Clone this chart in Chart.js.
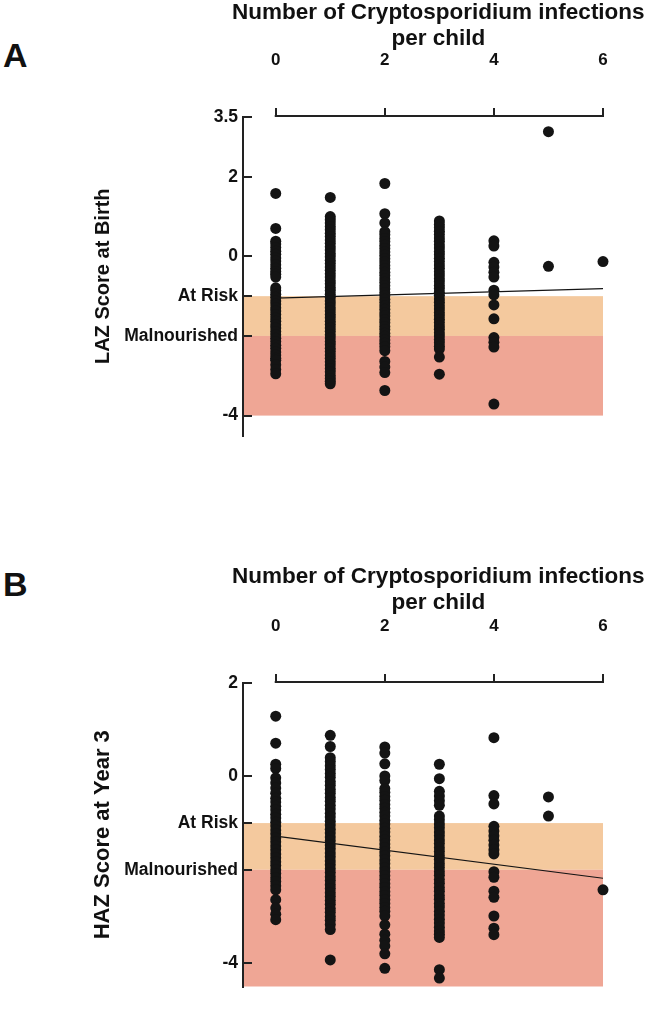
<!DOCTYPE html>
<html>
<head>
<meta charset="utf-8">
<script src="https://cdn.jsdelivr.net/npm/chart.js@4.4.1/dist/chart.umd.min.js"></script>
<style>
    html, body { margin: 0; padding: 0; background: #fff; }
    body { width: 646px; height: 1011px; position: relative; overflow: hidden; font-family: "Liberation Sans", Arial, sans-serif; }
    .panel-letter { position: absolute; left: 3px; font-weight: bold; font-size: 34px; line-height: 34px; color: #111; }
    .panel { position: absolute; left: 0; width: 646px; }
    canvas { display: block; }
</style>
</head>
<body>
<div class="panel-letter" style="top:38px">A</div>
<div class="panel-letter" style="top:567px">B</div>
<div class="panel" style="top:0"><canvas id="chart_a" width="646" height="460"></canvas></div>
<div class="panel" style="top:470px"><canvas id="chart_b" width="646" height="541"></canvas></div>
<script>
// x categories: number of Cryptosporidium infections per child
const infectionCounts = [0, 1, 2, 3, 4, 5, 6];
const xTickValues = [0, 2, 4, 6];
const xTitle = ["Number of Cryptosporidium infections", "per child"];

// Panel A - LAZ score at birth, one list per infection count
const laz0 = [1.58, 0.70, 0.38, 0.31, 0.22, 0.13, 0.05, -0.04, -0.12, -0.21, -0.30, -0.38, -0.45, -0.52,
    -0.79, -0.86, -0.95, -1.03, -1.12, -1.20, -1.29, -1.37, -1.46, -1.55, -1.63, -1.72, -1.80, -1.89,
    -1.97, -2.06, -2.14, -2.23, -2.31, -2.40, -2.48, -2.56, -2.61, -2.72, -2.84, -2.95];
const laz1 = [1.48, 1.00, 0.92, 0.84, 0.75, 0.67, 0.58, 0.50, 0.41, 0.33, 0.24, 0.16, 0.07, -0.01, -0.10,
    -0.18, -0.27, -0.35, -0.44, -0.52, -0.61, -0.69, -0.78, -0.86, -0.95, -1.03, -1.12, -1.20, -1.29,
    -1.37, -1.46, -1.54, -1.63, -1.71, -1.80, -1.88, -1.97, -2.05, -2.14, -2.22, -2.31, -2.39, -2.48,
    -2.56, -2.65, -2.73, -2.82, -2.90, -2.99, -3.07, -3.14, -3.20];
const laz2 = [1.83, 1.07, 0.84, 0.62, 0.54, 0.45, 0.37, 0.28, 0.20, 0.11, 0.03, -0.06, -0.14, -0.23, -0.31,
    -0.40, -0.48, -0.57, -0.65, -0.74, -0.82, -0.91, -0.99, -1.08, -1.16, -1.25, -1.33, -1.42, -1.50,
    -1.59, -1.67, -1.76, -1.84, -1.93, -2.01, -2.10, -2.18, -2.27, -2.37, -2.64, -2.78, -2.92, -3.37];
const laz3 = [0.89, 0.80, 0.72, 0.63, 0.55, 0.46, 0.38, 0.29, 0.21, 0.12, 0.04, -0.05, -0.13, -0.22, -0.30,
    -0.39, -0.47, -0.56, -0.64, -0.73, -0.81, -0.90, -0.98, -1.07, -1.15, -1.24, -1.32, -1.41, -1.49,
    -1.58, -1.66, -1.75, -1.83, -1.92, -2.00, -2.09, -2.17, -2.26, -2.33, -2.53, -2.96];
const laz4 = [0.39, 0.26, -0.15, -0.27, -0.40, -0.52, -0.85, -0.97, -1.22, -1.57, -2.04, -2.16, -2.28, -3.71];
const laz5 = [3.13, -0.25];
const laz6 = [-0.13];
const lazFitX = [0, 6];
const lazFitY = [-1.05, -0.81];
const lazTickValues = [3.5, 2, 0, -1, -2, -4];
const lazTickLabels = ["3.5", "2", "0", "At Risk", "Malnourished", "-4"];

// Panel B - HAZ score at year 3
const haz0 = [1.29, 0.71, 0.26, 0.17, -0.03, -0.14, -0.25, -0.36, -0.47, -0.55, -0.64, -0.72, -0.81, -0.89,
    -0.98, -1.06, -1.15, -1.23, -1.32, -1.40, -1.49, -1.57, -1.66, -1.74, -1.83, -1.91, -2.00, -2.08,
    -2.17, -2.25, -2.34, -2.43, -2.64, -2.82, -2.95, -3.07];
const haz1 = [0.88, 0.64, 0.40, 0.32, 0.23, 0.15, 0.06, -0.02, -0.11, -0.19, -0.28, -0.36, -0.45, -0.53,
    -0.62, -0.70, -0.79, -0.87, -0.96, -1.04, -1.13, -1.21, -1.30, -1.38, -1.47, -1.55, -1.64, -1.72,
    -1.81, -1.89, -1.98, -2.06, -2.15, -2.23, -2.32, -2.40, -2.49, -2.57, -2.66, -2.74, -2.83, -2.91,
    -3.00, -3.08, -3.17, -3.28, -3.93];
const haz2 = [0.63, 0.50, 0.27, 0.01, -0.09, -0.26, -0.34, -0.43, -0.51, -0.60, -0.68, -0.77, -0.85, -0.94,
    -1.02, -1.11, -1.19, -1.28, -1.36, -1.45, -1.53, -1.62, -1.70, -1.79, -1.87, -1.96, -2.04, -2.13,
    -2.21, -2.30, -2.38, -2.47, -2.55, -2.64, -2.72, -2.81, -2.89, -2.99, -3.18, -3.38, -3.51, -3.63,
    -3.80, -4.11];
const haz3 = [0.26, -0.05, -0.32, -0.42, -0.52, -0.62, -0.85, -0.93, -1.02, -1.10, -1.19, -1.27, -1.36,
    -1.44, -1.53, -1.61, -1.70, -1.78, -1.87, -1.95, -2.04, -2.12, -2.21, -2.29, -2.38, -2.46, -2.55,
    -2.63, -2.72, -2.80, -2.89, -2.97, -3.06, -3.14, -3.23, -3.31, -3.38, -3.45, -4.14, -4.32];
const haz4 = [0.83, -0.41, -0.59, -1.07, -1.17, -1.27, -1.37, -1.47, -1.57, -1.66, -2.04, -2.16, -2.46,
    -2.59, -2.99, -3.25, -3.39];
const haz5 = [-0.44, -0.85];
const haz6 = [-2.43];
const hazFitX = [0, 6];
const hazFitY = [-1.28, -2.18];
const hazTickValues = [2, 0, -1, -2, -4];
const hazTickLabels = ["2", "0", "At Risk", "Malnourished", "-4"];

// risk bands (z-score limits)
const atRiskBand = [-1, -2];
const malnourishedBandA = [-2, -4];
const malnourishedBandB = [-2, -4.5];

const FONT = "'Liberation Sans', Arial, sans-serif";
const INK = "#141414";
const AT_RISK_COLOR = "#f4c99e";
const MALNOURISHED_COLOR = "#efa695";

// bands go in before the axes so the inward tick marks stay visible;
// the top axis line only runs from 0 to 6, and the axis title is drawn
// without the scale's maxWidth so it can run wider than the plot
const panelDecor = {
    id: "panelDecor",
    beforeDraw(chart, args, opts) {
        const { ctx, chartArea, scales } = chart;
        const left = chartArea.left;
        const right = scales.x.getPixelForValue(opts.xEnd);
        ctx.save();
        opts.bands.forEach((band) => {
            const top = scales.y.getPixelForValue(band.range[0]);
            const bottom = scales.y.getPixelForValue(band.range[1]);
            ctx.fillStyle = band.color;
            ctx.fillRect(left, top, right - left, bottom - top);
        });
        ctx.restore();
    },
    afterDraw(chart, args, opts) {
        const { ctx, chartArea, scales } = chart;
        const x0 = scales.x.getPixelForValue(opts.xStart);
        const x1 = scales.x.getPixelForValue(opts.xEnd);
        const y = chartArea.top - 1;
        ctx.save();
        ctx.strokeStyle = "#222";
        ctx.lineWidth = 2;
        ctx.beginPath();
        ctx.moveTo(x0 - 1, y);
        ctx.lineTo(x1 + 1, y);
        ctx.stroke();

        ctx.fillStyle = "#111";
        ctx.font = `bold 22.5px ${FONT}`;
        ctx.textAlign = "center";
        ctx.textBaseline = "middle";
        opts.title.forEach((line, i) => {
            ctx.fillText(line, (x0 + x1) / 2 - 1, opts.titleTop + i * opts.titleLineGap);
        });
        ctx.restore();
    },
};

function buildPoints(columns) {
    const points = [];
    columns.forEach((values, i) => {
        values.forEach((v) => points.push({ x: infectionCounts[i], y: v }));
    });
    return points;
}

function buildFit(xs, ys) {
    return xs.map((x, i) => ({ x: x, y: ys[i] }));
}

function makePanel(canvasId, cfg) {
    const ctx = document.getElementById(canvasId);
    return new Chart(ctx, {
        type: "scatter",
        data: {
            datasets: [
                {
                    data: buildPoints(cfg.columns),
                    backgroundColor: INK,
                    borderWidth: 0,
                    pointRadius: 5.5,
                    pointHoverRadius: 5.5,
                    clip: false,
                    order: 0,
                },
                {
                    type: "line",
                    data: buildFit(cfg.fitX, cfg.fitY),
                    borderColor: INK,
                    borderWidth: 1.1,
                    pointRadius: 0,
                    fill: false,
                    clip: false,
                    order: 1,
                },
            ],
        },
        options: {
            responsive: false,
            animation: false,
            events: [],
            layout: { padding: { left: cfg.padLeft, right: 43, top: 0, bottom: cfg.padBottom } },
            plugins: {
                legend: { display: false },
                tooltip: { enabled: false },
                panelDecor: {
                    xStart: 0,
                    xEnd: 6,
                    title: xTitle,
                    titleTop: cfg.titleTop,
                    titleLineGap: 25.5,
                    bands: [
                        { range: atRiskBand, color: AT_RISK_COLOR },
                        { range: cfg.malBand, color: MALNOURISHED_COLOR },
                    ],
                },
            },
            scales: {
                x: {
                    type: "linear",
                    position: "top",
                    min: -0.6,
                    max: 6,
                    afterBuildTicks: (axis) => { axis.ticks = xTickValues.map((v) => ({ value: v })); },
                    afterFit: (axis) => { axis.height = cfg.xAxisHeight; },
                    border: { display: false },
                    grid: { display: true, drawOnChartArea: false, drawTicks: true, tickLength: 9, color: "#222", lineWidth: 2 },
                    ticks: {
                        autoSkip: false,
                        maxRotation: 0,
                        padding: 37,
                        color: "#111",
                        font: { family: FONT, size: 17, weight: "bold" },
                    },
                    title: { display: false },
                },
                y: {
                    type: "linear",
                    min: -4.5,
                    max: cfg.yMax,
                    afterBuildTicks: (axis) => { axis.ticks = cfg.tickValues.map((v) => ({ value: v })); },
                    afterFit: (axis) => { axis.width = 243 - cfg.padLeft; },
                    border: { display: true, color: "#222", width: 2 },
                    grid: { display: true, drawOnChartArea: false, drawTicks: true, tickLength: -9, color: "#222", lineWidth: 2 },
                    ticks: {
                        autoSkip: false,
                        padding: 14,
                        color: "#111",
                        font: { family: FONT, size: 17.5, weight: "bold" },
                        callback: (value) => cfg.tickLabels[cfg.tickValues.indexOf(value)],
                    },
                    title: {
                        display: true,
                        text: cfg.yTitle,
                        color: "#111",
                        padding: { top: 4, bottom: 0 },
                        font: { family: FONT, size: cfg.yTitleSize, weight: "bold" },
                    },
                },
            },
        },
        plugins: [panelDecor],
    });
}

makePanel("chart_a", {
    columns: [laz0, laz1, laz2, laz3, laz4, laz5, laz6],
    fitX: lazFitX,
    fitY: lazFitY,
    tickValues: lazTickValues,
    tickLabels: lazTickLabels,
    malBand: malnourishedBandA,
    yMax: 3.5,
    yTitle: "LAZ Score at Birth",
    yTitleSize: 20,
    padLeft: 87,
    padBottom: 16,
    xAxisHeight: 117,
    titleTop: 13,
});

makePanel("chart_b", {
    columns: [haz0, haz1, haz2, haz3, haz4, haz5, haz6],
    fitX: hazFitX,
    fitY: hazFitY,
    tickValues: hazTickValues,
    tickLabels: hazTickLabels,
    malBand: malnourishedBandB,
    yMax: 2,
    yTitle: "HAZ Score at Year 3",
    yTitleSize: 22,
    padLeft: 86,
    padBottom: 0,
    xAxisHeight: 213,
    titleTop: 107,
});
</script>
</body>
</html>
